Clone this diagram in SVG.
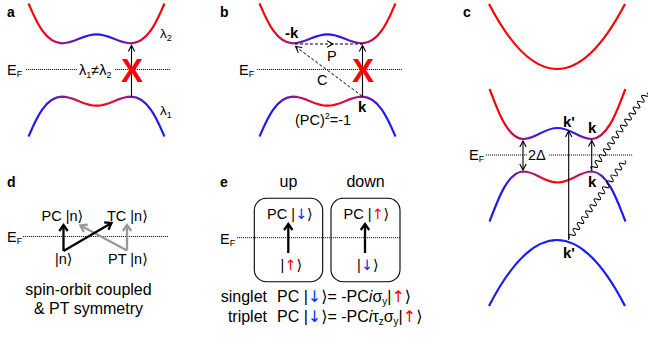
<svg xmlns="http://www.w3.org/2000/svg" width="648" height="339" viewBox="0 0 648 339">
<style>
text{font-family:'Liberation Sans','DejaVu Sans',Arial,sans-serif;fill:#000}
.pl{font-weight:bold;font-size:14px}
.t{font-size:14.5px}
.s{font-size:13.5px}
.k{font-weight:bold;font-size:15px}
.cap{font-size:16px}
.sub{font-size:9px}
.dv{font-family:'DejaVu Sans',sans-serif}
.up{font-family:'DejaVu Sans',sans-serif;fill:#ff0000}
.dn{font-family:'DejaVu Sans',sans-serif;fill:#0033ff}
.xm{font-weight:bold;font-size:33px;fill:#ff0000}
.band{fill:none;stroke-width:2.2}
.ef{stroke:#222;stroke-width:1;stroke-dasharray:1.2 0.8;fill:none}
.arr{stroke:#000;stroke-width:1.1;fill:none;marker-end:url(#ah)}
.dash{stroke:#000;stroke-width:1;stroke-dasharray:3 2;fill:none}
.thk{stroke-width:2.3;fill:none}
.box{fill:none;stroke:#000;stroke-width:1.1}
.wv{fill:none;stroke:#000;stroke-width:1}
</style>
<defs>
<linearGradient id="gU" x1="0" y1="0" x2="1" y2="0">
<stop offset="0" stop-color="#ff0000"/>
<stop offset="0.12" stop-color="#f2001a"/>
<stop offset="0.25" stop-color="#8c1a8c"/>
<stop offset="0.4" stop-color="#3318e6"/>
<stop offset="0.5" stop-color="#1a1aff"/>
<stop offset="0.6" stop-color="#3318e6"/>
<stop offset="0.75" stop-color="#8c1a8c"/>
<stop offset="0.88" stop-color="#f2001a"/>
<stop offset="1" stop-color="#ff0000"/>
</linearGradient>
<linearGradient id="gL" x1="0" y1="0" x2="1" y2="0">
<stop offset="0" stop-color="#1a1aff"/>
<stop offset="0.12" stop-color="#2a14f0"/>
<stop offset="0.25" stop-color="#8c1a8c"/>
<stop offset="0.4" stop-color="#e0102e"/>
<stop offset="0.5" stop-color="#ff0000"/>
<stop offset="0.6" stop-color="#e0102e"/>
<stop offset="0.75" stop-color="#8c1a8c"/>
<stop offset="0.88" stop-color="#2a14f0"/>
<stop offset="1" stop-color="#1a1aff"/>
</linearGradient>
<path id="band" d="M-68,-39.8 C-63,-29.3 -53.5,-0.8 -35,0 C-21,0 -14,-9 0,-9 C14,-9 21,0 35,0 C53.5,-0.8 63,-29.3 68,-39.8"/>
<path id="bandC" d="M-68,-50 C-62,-36 -52,-1 -34.5,0 C-21,0 -14,-11 0,-11 C14,-11 21,0 34.5,0 C52,-1 62,-36 68,-50"/>
<path id="wave" d="M0,0 c1,-3.6 2.65,-3.6 3.65,0 s2.65,3.6 3.65,0 s2.65,-3.6 3.65,0 s2.65,3.6 3.65,0 s2.65,-3.6 3.65,0 s2.65,3.6 3.65,0 s2.65,-3.6 3.65,0 s2.65,3.6 3.65,0 s2.65,-3.6 3.65,0 s2.65,3.6 3.65,0 s2.65,-3.6 3.65,0 s2.65,3.6 3.65,0 s2.65,-3.6 3.65,0 s2.65,3.6 3.65,0 s2.65,-3.6 3.65,0 s2.65,3.6 3.65,0 s2.65,-3.6 3.65,0 s2.65,3.6 3.65,0 s2.65,-3.6 3.65,0 s2.65,3.6 3.65,0 s2.65,-3.6 3.65,0 s2.65,3.6 3.65,0 s2.65,-3.6 3.65,0 s2.65,3.6 3.65,0 s2.65,-3.6 3.65,0 s2.65,3.6 3.65,0"/>
<marker id="ah" viewBox="-8 -5 10 10" refX="0" refY="0" markerWidth="10" markerHeight="10" markerUnits="userSpaceOnUse" orient="auto-start-reverse">
<path d="M-6,-3.2 L0,0 L-6,3.2" fill="none" stroke="#000" stroke-width="1.1" stroke-dasharray="none"/>
</marker>
<marker id="ahT" viewBox="-9 -6 12 12" refX="0" refY="0" markerWidth="12" markerHeight="12" markerUnits="userSpaceOnUse" orient="auto">
<path d="M-6,-4.2 L0,0 L-6,4.2" fill="none" stroke="#000" stroke-width="2.3"/>
</marker>
<marker id="ahG" viewBox="-9 -6 12 12" refX="0" refY="0" markerWidth="12" markerHeight="12" markerUnits="userSpaceOnUse" orient="auto">
<path d="M-6,-4.2 L0,0 L-6,4.2" fill="none" stroke="#999" stroke-width="2.3"/>
</marker>
</defs>

<!-- Panel a -->
<g id="panel-a">
<text class="pl" x="7" y="17">a</text>
<use id="a-band-upper" href="#band" class="band" stroke="url(#gU)" transform="translate(96.5,43.3)"/>
<use id="a-band-lower" href="#band" class="band" stroke="url(#gL)" transform="translate(96.5,96.7) scale(1,-1)"/>
<path class="ef" d="M26,69.5 H77 M115,69.5 H171"/>
<text class="t" x="7" y="75">E<tspan class="sub" dy="1.5">F</tspan></text>
<text class="t" x="79" y="75">λ<tspan class="sub" dy="2.5">1</tspan><tspan dy="-2.5">≠λ</tspan><tspan class="sub" dy="2.5">2</tspan></text>
<text class="s" x="160" y="38">λ<tspan class="sub" dy="2.5">2</tspan></text>
<text class="s" x="160" y="115">λ<tspan class="sub" dy="2.5">1</tspan></text>
</g>

<!-- Panel b -->
<g id="panel-b">
<text class="pl" x="220" y="17">b</text>
<use id="b-band-upper" href="#band" class="band" stroke="url(#gU)" transform="translate(327.5,43.3)"/>
<use id="b-band-lower" href="#band" class="band" stroke="url(#gL)" transform="translate(327.5,96.7) scale(1,-1)"/>
<path class="ef" d="M257,69.5 H402"/>
<text class="t" x="239" y="75">E<tspan class="sub" dy="1.5">F</tspan></text>
<text class="k" x="285" y="38">-k</text>
<text class="t" x="327" y="61">P</text>
<text class="t" x="317" y="85">C</text>
<text class="k" x="358" y="111.5">k</text>
<text class="t" x="295" y="125">(PC)<tspan class="sub" dy="-6">2</tspan><tspan dy="6">=-1</tspan></text>
</g>

<!-- Panel c -->
<g id="panel-c">
<text class="pl" x="463" y="17">c</text>
<path id="c-band-top" class="band" stroke="#ff0000" d="M489,4 Q557,134 625,4"/>
<use id="c-band-upper" href="#bandC" class="band" stroke="url(#gU)" transform="translate(557.5,139)"/>
<use id="c-band-lower" href="#bandC" class="band" stroke="url(#gL)" transform="translate(557.5,171.5) scale(1,-1)"/>
<path id="c-band-bottom" class="band" stroke="#1a1aff" d="M489,306 Q557,174 625,306"/>
<path class="ef" d="M486,155 H527 M549,155 H633"/>
<text class="t" x="469" y="160">E<tspan class="sub" dy="1.5">F</tspan></text>
<text class="t" x="528" y="160">2Δ</text>
<text class="k" x="563" y="126.5">k'</text>
<text class="k" x="588" y="133">k</text>
<text class="k" x="588" y="186.5">k</text>
<text class="k" x="563" y="258">k'</text>
</g>

<!-- Panel d -->
<g id="panel-d">
<text class="pl" x="7" y="187">d</text>
<path class="ef" d="M23,236.5 H168"/>
<text class="t" x="7" y="242">E<tspan class="sub" dy="1.5">F</tspan></text>
<text class="t" x="41.5" y="220.5">PC |n<tspan class="dv">⟩</tspan></text>
<text class="t" x="107" y="220.5">TC |n<tspan class="dv">⟩</tspan></text>
<text class="t" x="55" y="264">|n<tspan class="dv">⟩</tspan></text>
<text class="t" x="108" y="264">PT |n<tspan class="dv">⟩</tspan></text>
<text class="cap" x="88.5" y="295" text-anchor="middle">spin-orbit coupled</text>
<text class="cap" x="88.5" y="314" text-anchor="middle">&amp; PT symmetry</text>
</g>

<!-- Panel e -->
<g id="panel-e">
<text class="pl" x="220" y="187">e</text>
<text class="cap" x="288.5" y="187" text-anchor="middle">up</text>
<text class="cap" x="365.5" y="187" text-anchor="middle">down</text>
<rect id="e-box-up" class="box" x="254.3" y="198.3" width="68.4" height="83.4" rx="12"/>
<rect id="e-box-down" class="box" x="331" y="198.3" width="69" height="83.4" rx="12"/>
<path class="ef" d="M237,237.7 H400"/>
<text class="t" x="220" y="244">E<tspan class="sub" dy="1.5">F</tspan></text>
<text class="t" x="267" y="218.5">PC |<tspan class="dn">↓</tspan><tspan class="dv">⟩</tspan></text>
<text class="t" x="343.5" y="218.5">PC |<tspan class="up">↑</tspan><tspan class="dv">⟩</tspan></text>
<text class="t" x="280.5" y="270">|<tspan class="up">↑</tspan><tspan class="dv">⟩</tspan></text>
<text class="t" x="357" y="270">|<tspan class="dn">↓</tspan><tspan class="dv">⟩</tspan></text>
<text class="cap" x="267" y="302" text-anchor="end">singlet</text>
<text class="cap" x="277" y="302">PC |<tspan class="dn">↓</tspan><tspan class="dv">⟩</tspan>= -PC<tspan font-style="italic">i</tspan>σ<tspan font-size="10" dy="3">y</tspan><tspan dy="-3">|</tspan><tspan class="up">↑</tspan><tspan class="dv">⟩</tspan></text>
<text class="cap" x="267" y="322" text-anchor="end">triplet</text>
<text class="cap" x="277" y="322">PC |<tspan class="dn">↓</tspan><tspan class="dv">⟩</tspan>= -PC<tspan font-style="italic">i</tspan>τ<tspan font-size="10" dy="3">z</tspan><tspan dy="-3">σ</tspan><tspan font-size="10" dy="3">y</tspan><tspan dy="-3">|</tspan><tspan class="up">↑</tspan><tspan class="dv">⟩</tspan></text>
</g>

<!-- Connectors -->
<g id="connectors">
<line id="a-arrow" class="arr" x1="131.5" y1="96.7" x2="131.5" y2="45.5"/>
<text class="xm" x="132" y="82" text-anchor="middle">X</text>
<path id="b-P" class="dash" d="M295,44 L333,44 L362.5,44" marker-mid="url(#ah)"/>
<path id="b-C" class="dash" d="M362,96 L295.5,46.5" marker-end="url(#ah)"/>
<line id="b-arrow" class="arr" x1="362.5" y1="96.7" x2="362.5" y2="45.5"/>
<text class="xm" x="363" y="82" text-anchor="middle">X</text>
<line id="c-gap" class="arr" x1="523" y1="170" x2="523" y2="141" marker-start="url(#ah)"/>
<line id="c-kp" class="arr" x1="568.7" y1="240" x2="568.7" y2="131"/>
<line id="c-k" class="arr" x1="591.7" y1="171" x2="591.7" y2="140.5"/>
<use id="c-wave-low" href="#wave" class="wv" transform="translate(570,238) rotate(-54.8)"/>
<use id="c-wave-up" href="#wave" class="wv" transform="translate(592,170) rotate(-54.5)"/>
<g id="d-arrows">
<path class="thk" stroke="#999" d="M127,250.5 V225" marker-end="url(#ahG)"/>
<path class="thk" stroke="#999" d="M127,250.5 L80.5,225.5" marker-end="url(#ahG)"/>
<path class="thk" stroke="#000" d="M63.5,251 V225" marker-end="url(#ahT)"/>
<path class="thk" stroke="#000" d="M63.5,251 L111.5,223" marker-end="url(#ahT)"/>
</g>
<path class="thk" stroke="#000" d="M288.3,253 V224" marker-end="url(#ahT)"/>
<path class="thk" stroke="#000" d="M365,253 V224" marker-end="url(#ahT)"/>
</g>
</svg>
